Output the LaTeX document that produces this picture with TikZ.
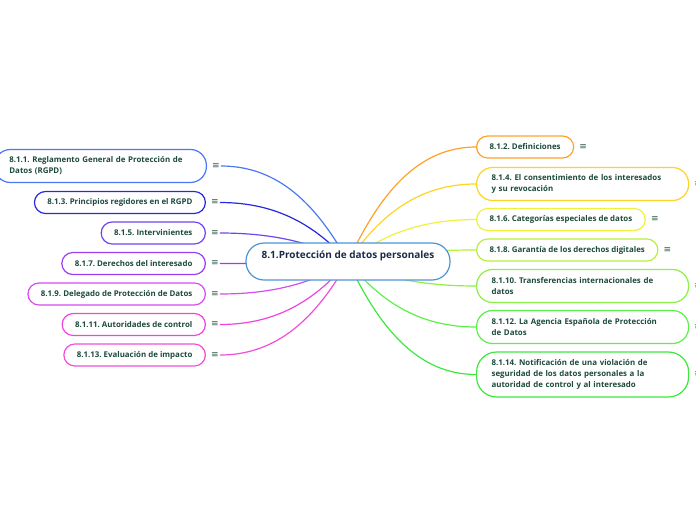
\documentclass[tikz,border=0pt]{standalone}
\usepackage{fontspec}
\setmainfont{Open Sans}
\newfontfamily\symbfont{DejaVu Sans}
\usepackage{tikz}
\usetikzlibrary{backgrounds,positioning,calc}
\frenchspacing

\definecolor{txt}{HTML}{1D4A3C}
\definecolor{icn}{HTML}{2F5A4C}
\definecolor{roottxt}{HTML}{1B2A47}
\definecolor{rootc}{HTML}{4D94D6}
\definecolor{col1}{HTML}{4B78F5}
\definecolor{col3}{HTML}{2828E0}
\definecolor{col5}{HTML}{6E46F0}
\definecolor{col7}{HTML}{9A3CF0}
\definecolor{col9}{HTML}{D54CF0}
\definecolor{col11}{HTML}{F044E0}
\definecolor{col13}{HTML}{F04ED8}
\definecolor{col2}{HTML}{FFA028}
\definecolor{col4}{HTML}{FFD324}
\definecolor{col6}{HTML}{EEF23A}
\definecolor{col8}{HTML}{B5F03A}
\definecolor{col10}{HTML}{8CF048}
\definecolor{col12}{HTML}{5EF04A}
\definecolor{col14}{HTML}{3CE83C}

% rama curva desde el centro
\newcommand{\branch}[3]{%
  \draw[link, #1] let \p1=(#2), \p2=(#3) in
    (\p1) .. controls ({\x1+0.25*(\x2-\x1)},{\y1+0.6*(\y2-\y1)}) and ({\x1+0.55*(\x2-\x1)},\y2) .. (\p2);}

\begin{document}
\begin{tikzpicture}[
    x=1pt, y=-1pt,
    every node/.style={font=\fontsize{7.9}{11}\selectfont\bfseries, text=txt},
    main/.style={draw=rootc, line width=1.2pt, fill=white, rounded corners=18pt,
      minimum width=204pt, inner ysep=4pt, text height=11.3pt, text depth=17.7pt,
      font=\fontsize{10}{12}\selectfont\bfseries, text=roottxt},
    topic/.style={draw, line width=1.2pt, fill=white, rounded corners=11pt,
      minimum height=22pt, inner xsep=13pt, inner ysep=0pt},
    long/.style={topic, rounded corners=16pt, minimum height=33pt,
      text width=182pt, inner xsep=15pt, align=left},
    icon/.style={font=\symbfont\fontsize{9}{9}\selectfont, text=icn, inner sep=1pt, right=4pt of #1},
    link/.style={line width=1.2pt}
]
\useasboundingbox (0,0) rectangle (696,520);

% nodo central
\node[main] (root) at (348,261.5) {8.1.Protección de datos personales};

% ramas de la izquierda
\node[long, draw=col1, anchor=east] (t1) at (207,166) {8.1.1. Reglamento General de Protección de\\Datos (RGPD)};
\node[topic, draw=col3, anchor=east] (t3) at (206,202.5) {8.1.3. Principios regidores en el RGPD};
\node[topic, draw=col5, anchor=east] (t5) at (206,233) {8.1.5. Intervinientes};
\node[topic, draw=col7, anchor=east] (t7) at (206,263.5) {8.1.7. Derechos del interesado};
\node[topic, draw=col9, anchor=east] (t9) at (206,294) {8.1.9. Delegado de Protección de Datos};
\node[topic, draw=col11, anchor=east] (t11) at (206,324.5) {8.1.11. Autoridades de control};
\node[topic, draw=col13, anchor=east] (t13) at (206,355) {8.1.13. Evaluación de impacto};

% ramas de la derecha
\node[topic, draw=col2, anchor=west] (t2) at (476,147) {8.1.2. Definiciones};
\node[long, draw=col4, anchor=west] (t4) at (476,184) {8.1.4. El consentimiento de los interesados\\y su revocación};
\node[topic, draw=col6, anchor=west] (t6) at (476,219.5) {8.1.6. Categorías especiales de datos};
\node[topic, draw=col8, anchor=west] (t8) at (476,250) {8.1.8. Garantía de los derechos digitales};
\node[long, draw=col10, anchor=west] (t10) at (476,286) {8.1.10. Transferencias internacionales de\\datos};
\node[long, draw=col12, anchor=west] (t12) at (476,327) {8.1.12. La Agencia Española de Protección\\de Datos};
\node[long, draw=col14, anchor=west, minimum height=45pt, rounded corners=20pt] (t14) at (476,374.5) {8.1.14. Notificación de una violación de\\seguridad de los datos personales a la\\autoridad de control y al interesado};

% iconos de notas
\foreach \i in {1,...,14}
  \node[icon=t\i] (m\i) {≡};

% conexiones
\begin{scope}[on background layer]
\foreach \i in {1,3,...,13}
  \branch{col\i}{root.center}{m\i.east};
\foreach \i in {2,4,...,14}
  \branch{col\i}{root.center}{t\i.west};
\end{scope}

\end{tikzpicture}
\end{document}
